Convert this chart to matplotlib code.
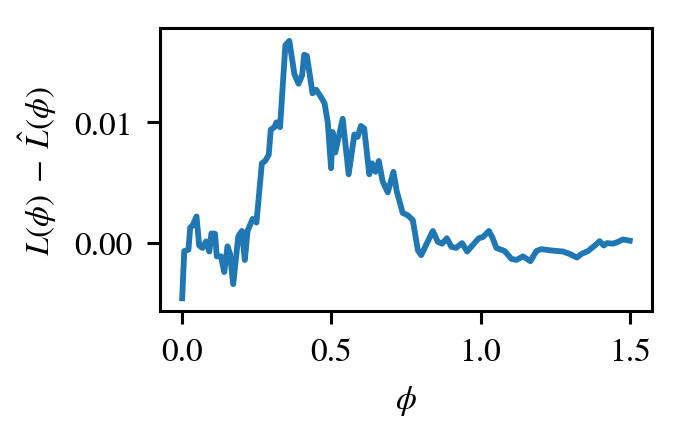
import matplotlib
matplotlib.use("Agg")
import matplotlib.pyplot as plt

plt.rcParams["font.family"] = "STIXGeneral"
plt.rcParams["mathtext.fontset"] = "stix"
plt.rcParams["font.size"] = 12
plt.rcParams["axes.linewidth"] = 1.1
plt.rcParams["xtick.major.size"] = 4.7
plt.rcParams["ytick.major.size"] = 4.7
plt.rcParams["xtick.major.width"] = 1.1
plt.rcParams["ytick.major.width"] = 1.1
plt.rcParams["xtick.major.pad"] = 5.0
plt.rcParams["ytick.major.pad"] = 5.2
plt.rcParams["axes.labelpad"] = 5.5

# curve
phi = [0.0, 0.007, 0.021, 0.027, 0.035, 0.048, 0.057, 0.068, 0.080, 0.091,
       0.098, 0.110, 0.116, 0.130, 0.141, 0.152, 0.160, 0.171, 0.188, 0.200,
       0.210, 0.219, 0.236, 0.249, 0.267, 0.278, 0.290, 0.297, 0.309, 0.316,
       0.328, 0.346, 0.359, 0.376, 0.390, 0.402, 0.409, 0.418, 0.437, 0.449,
       0.465, 0.477, 0.488, 0.499, 0.504, 0.513, 0.538, 0.558, 0.577, 0.588,
       0.599, 0.610, 0.627, 0.636, 0.648, 0.659, 0.672, 0.689, 0.708, 0.719,
       0.739, 0.756, 0.773, 0.790, 0.801, 0.840, 0.857, 0.871, 0.887, 0.902,
       0.918, 0.938, 0.955, 0.976, 0.994, 1.008, 1.028, 1.039, 1.053, 1.081,
       1.103, 1.120, 1.142, 1.167, 1.187, 1.204, 1.232, 1.276, 1.299, 1.323,
       1.338, 1.360, 1.383, 1.399, 1.413, 1.424, 1.444, 1.461, 1.477, 1.500]
diff = [-0.00457, -0.00066, -0.00055, 0.0013, 0.00145, 0.0022, -0.0002, -0.0004, 0.00014, -0.0007,
        0.0008, 0.00077, -0.0011, -0.0011, -0.0024, -0.00027, -0.00087, -0.0034, 0.00055, 0.001,
        -0.0014, 0.001, 0.002, 0.0017, 0.0066, 0.0068, 0.0073, 0.0094, 0.0096, 0.0100,
        0.0096, 0.0164, 0.01675, 0.0140, 0.0132, 0.0139, 0.0156, 0.0155, 0.0124, 0.0127,
        0.0121, 0.0116, 0.0100, 0.0062, 0.0092, 0.0075, 0.0103, 0.0057, 0.0090, 0.0088,
        0.0097, 0.0095, 0.0057, 0.0066, 0.0059, 0.0068, 0.0051, 0.0042, 0.0059, 0.0043,
        0.0025, 0.0023, 0.0019, -0.0006, -0.0010, 0.0010, 0.0001, -0.00005, 0.0004, -0.0003,
        -0.0004, 0.0000, -0.0007, -0.0001, 0.0004, 0.0005, 0.0010, 0.0005, -0.0004, -0.00066,
        -0.0013, -0.0014, -0.0011, -0.0015, -0.00066, -0.0005, -0.0006, -0.0007, -0.0009, -0.0012,
        -0.0009, -0.00066, -0.0002, 0.00016, -0.0002, 0.0, -0.00005, 0.0001, 0.0003, 0.0002]

fig = plt.figure(figsize=(3.4, 2.195), dpi=200)
ax = fig.add_axes([0.235, 0.289, 0.724, 0.645])
ax.plot(phi, diff, color="#1f77b4", linewidth=2.1)

ax.set_xticks([0.0, 0.5, 1.0, 1.5])
ax.set_yticks([0.0, 0.01])
ax.set_yticklabels(["0.00", "0.01"])
ax.set_xlabel(r"$\phi$")
ax.set_ylabel(r"$L(\phi)\;-\;\hat{L}(\phi)$")

fig.savefig("out.png", dpi=200)
